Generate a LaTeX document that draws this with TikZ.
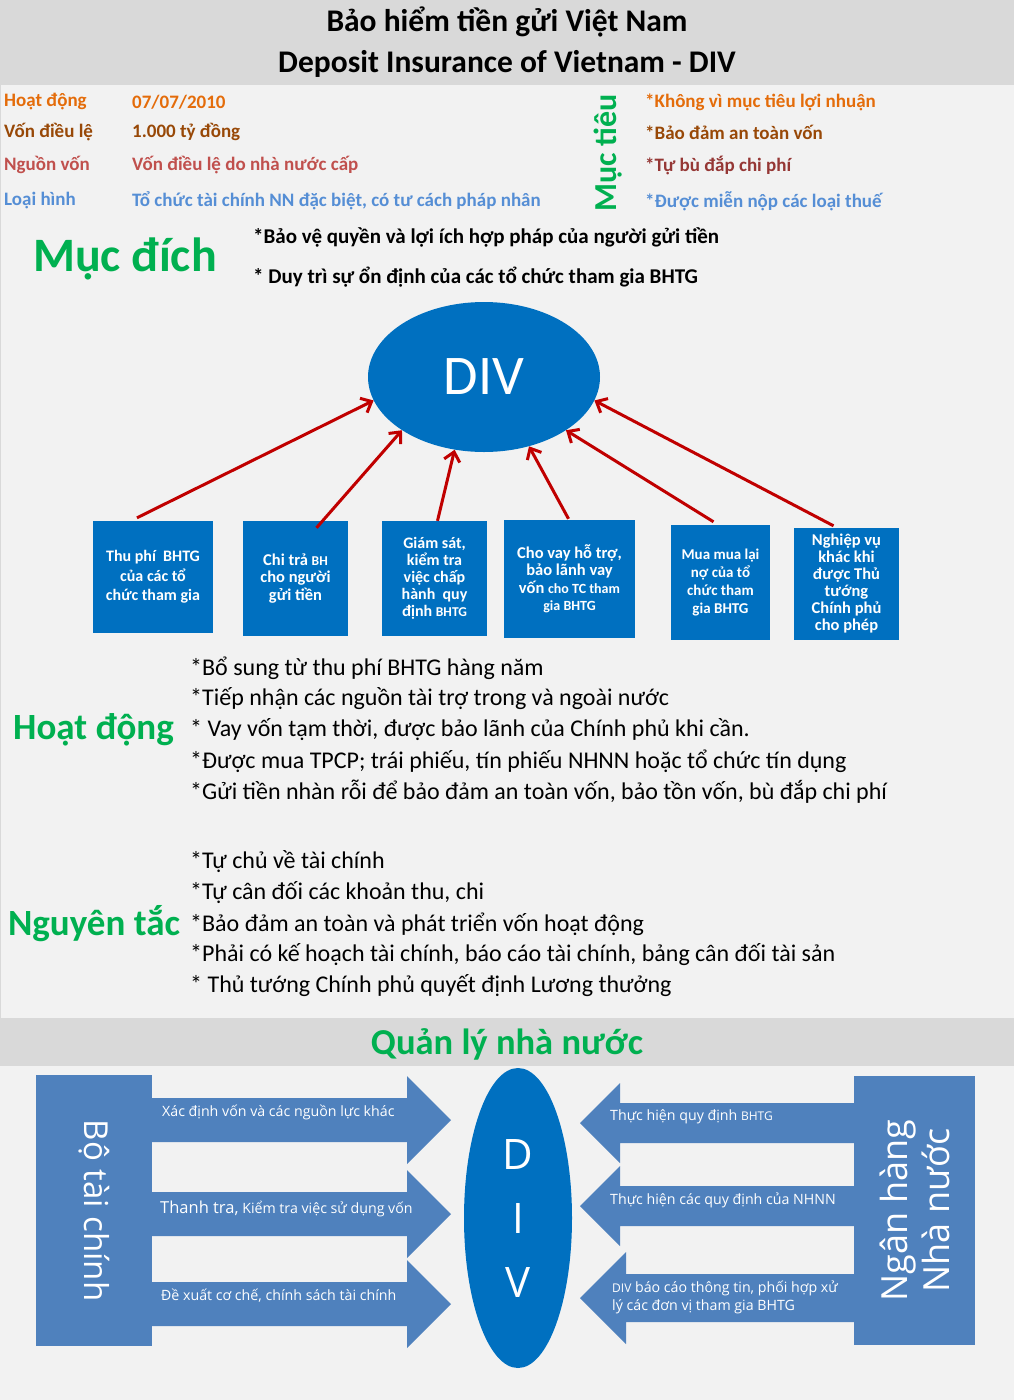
\documentclass[tikz,border=0pt]{standalone}
\usepackage{fontspec}
\setmainfont{Carlito}
\newfontfamily\segoe{Open Sans}
\usetikzlibrary{arrows.meta,shapes.geometric}
\definecolor{pagegray}{HTML}{F2F2F2}
\definecolor{bandgray}{HTML}{D9D9D9}
\definecolor{headgreen}{HTML}{00B050}
\definecolor{divblue}{HTML}{0070C0}
\definecolor{mofblue}{HTML}{4F81BD}
\definecolor{tiered}{HTML}{C00000}
\definecolor{orangec}{HTML}{E46C0A}
\definecolor{brownc}{HTML}{984807}
\definecolor{redc}{HTML}{C0504D}
\definecolor{darkredc}{HTML}{953735}
\definecolor{bluec}{HTML}{558ED5}

\begin{document}
\begin{tikzpicture}[x=1pt,y=-1pt,
 info/.style={anchor=west,inner sep=0pt,font=\fontsize{19}{22}\selectfont\bfseries},
 head/.style={text=headgreen,inner sep=0pt,font=\fontsize{37}{42}\selectfont\bfseries},
 card/.style={fill=divblue,text=white,align=center,inner sep=0pt,font=\fontsize{16}{19.5}\selectfont\bfseries},
 tie/.style={draw=tiered,line width=3pt,-{Straight Barb[length=9pt,width=16pt]}},
 item/.style={anchor=west,inner sep=0pt,font=\fontsize{24}{28}\selectfont},
 blk/.style={fill=mofblue},
 tag/.style={anchor=west,inner sep=0pt,text=white,align=left,font=\segoe\fontsize{14.2}{18}\selectfont}]
\useasboundingbox (0,0) rectangle (1014,1400);
% backgrounds
\fill[pagegray] (0,0) rectangle (1014,1400);
\fill[bandgray] (0,0) rectangle (1014,85);
\fill[bandgray] (0,1018) rectangle (1014,1066);
\draw[bandgray] (0.5,85) -- (0.5,1018);

% title
\node[font=\fontsize{31.5}{36}\selectfont\bfseries] (t1) at (507,22) {Bảo hiểm tiền gửi Việt Nam};
\node[font=\fontsize{31.5}{36}\selectfont\bfseries] (t2) at (507,64) {Deposit Insurance of Vietnam - DIV};

% info rows
\node[info,text=orangec] (k1) at (4,102) {Hoạt động};
\node[info,text=orangec] (v1) at (132,102) {07/07/2010};
\node[info,text=brownc] (k2) at (4,132) {Vốn điều lệ};
\node[info,text=brownc] (v2) at (132,132) {1.000 tỷ đồng};
\node[info,text=redc] (k3) at (4,165) {Nguồn vốn};
\node[info,text=redc] (v3) at (132,165) {Vốn điều lệ do nhà nước cấp};
\node[info,text=bluec] (k4) at (4,201) {Loại hình};
\node[info,text=bluec] (v4) at (132,201) {Tổ chức tài chính NN đặc biệt, có tư cách pháp nhân};

% goals
\node[head,rotate=90,font=\fontsize{32}{36}\selectfont\bfseries] (goal) at (608,153) {Mục tiêu};
\node[info,text=orangec] (g1) at (645,102) {*Không vì mục tiêu lợi nhuận};
\node[info,text=brownc] (g2) at (645,132) {*Bảo đảm an toàn vốn};
\node[info,text=darkredc] (g3) at (645,165) {*Tự bù đắp chi phí};
\node[info,text=bluec] (g4) at (645,201) {*Được miễn nộp các loại thuế};

% purpose
\node[head,font=\fontsize{48}{54}\selectfont\bfseries] (aim) at (125,259) {Mục đích};
\node[info,font=\fontsize{21}{24}\selectfont\bfseries] (p1) at (253,237) {*Bảo vệ quyền và lợi ích hợp pháp của người gửi tiền};
\node[info,font=\fontsize{21}{24}\selectfont\bfseries] (p2) at (253,277) {* Duy trì sự ổn định của các tổ chức tham gia BHTG};

% DIV and its tasks
\node[ellipse,fill=divblue,minimum width=232,minimum height=150,inner sep=0pt,text=white,font=\fontsize{56}{60}\selectfont] (div) at (484,377) {DIV};
\node[card,minimum width=120,minimum height=112] (b1) at (153,577) {Thu phí\ \ BHTG\\của các tổ\\chức tham gia};
\node[card,minimum width=105,minimum height=115,font=\fontsize{16.5}{17.5}\selectfont\bfseries] (b2) at (295.5,578.5) {Chi trả {\fontsize{13.5}{14}\selectfont BH}\\cho người\\gửi tiền};
\node[card,minimum width=105,minimum height=115,font=\fontsize{16}{17}\selectfont\bfseries] (b3) at (434.5,578.5) {Giám\ sát,\\kiểm tra\\việc chấp\\hành\ \ quy\\định {\fontsize{13.5}{14}\selectfont BHTG}};
\node[card,minimum width=131,minimum height=118,font=\fontsize{16.5}{17.5}\selectfont\bfseries] (b4) at (569.5,579) {Cho vay hỗ trợ,\\bảo lãnh vay\\vốn {\fontsize{14}{14}\selectfont cho TC tham}\\{\fontsize{14}{14}\selectfont gia BHTG}};
\node[card,minimum width=99,minimum height=115,font=\fontsize{15}{18}\selectfont\bfseries] (b5) at (720.5,582.5) {Mua mua lại\\nợ của tổ\\chức tham\\gia BHTG};
\node[card,minimum width=105,minimum height=112,font=\fontsize{16.5}{17}\selectfont\bfseries] (b6) at (846.5,584) {Nghiệp vụ\\khác khi\\được Thủ\\tướng\\Chính phủ\\cho phép};
\draw[tie] ([xshift=-16,yshift=3]b1.north) -- (div.192.8);
\draw[tie] ([xshift=21,yshift=-7]b2.north) -- (div.213.7);
\draw[tie] ([xshift=3]b3.north) -- (div.248.5);
\draw[tie] ([xshift=-1,yshift=1]b4.north) -- (div.303.9);
\draw[tie] ([xshift=-7,yshift=3]b5.north) -- (div.327.4);
\draw[tie] ([xshift=-13,yshift=2]b6.north) -- (div.348);

% activities
\node[head] (act) at (93.5,730) {Hoạt động};
\foreach \t [count=\i from 0] in {{*Bổ sung từ thu phí BHTG hàng năm},
 {*Tiếp nhận các nguồn tài trợ trong và ngoài nước},
 {* Vay vốn tạm thời, được bảo lãnh của Chính phủ khi cần.},
 {*Được mua TPCP; trái phiếu, tín phiếu NHNN hoặc tổ chức tín dụng},
 {*Gửi tiền nhàn rỗi để bảo đảm an toàn vốn, bảo tồn vốn, bù đắp chi phí}}
 \node[item] (a\i) at (190,668+31*\i) {\t};

% principles
\node[head] (rule) at (94,924) {Nguyên tắc};
\foreach \t [count=\i from 0] in {{*Tự chủ về tài chính},
 {*Tự cân đối các khoản thu, chi},
 {*Bảo đảm an toàn và phát triển vốn hoạt động},
 {*Phải có kế hoạch tài chính, báo cáo tài chính, bảng cân đối tài sản},
 {* Thủ tướng Chính phủ quyết định Lương thưởng}}
 \node[item] (r\i) at (190,862+31*\i) {\t};

% state management
\node[head,font=\fontsize{36.5}{40}\selectfont\bfseries] (gov) at (507,1044) {Quản lý nhà nước};
\foreach \y in {1120,1214,1304}
 \fill[blk] (152,\y-22) -- (407,\y-22) -- (407,\y-44) -- (451,\y) -- (407,\y+44) -- (407,\y+22) -- (152,\y+22) -- cycle;
\foreach \y/\h/\s/\e in {1123/620/20/40,1206/620/20/40,1298/626/24/46}
 \fill[blk] (854,\y-\s) -- (\h,\y-\s) -- (\h,\y-\e) -- (580,\y) -- (\h,\y+\e) -- (\h,\y+\s) -- (854,\y+\s) -- cycle;
\node[blk,minimum width=271,minimum height=116,inner sep=0pt,rotate=-90,text=white,font=\segoe\fontsize{33}{40}\selectfont] (mof) at (94,1210.5) {Bộ tài chính};
\node[blk,minimum width=269,minimum height=121,inner sep=0pt,rotate=90,align=center,text=white,font=\segoe\fontsize{36}{42}\selectfont] (sbv) at (914.5,1210.5) {Ngân hàng\\Nhà nước};
\node[ellipse,fill=divblue,minimum width=108,minimum height=300,inner sep=0pt,align=center,text=white,font=\segoe\fontsize{42}{64}\selectfont] (div2) at (518,1218) {D\\I\\V};
\node[tag] (m1) at (162,1112) {Xác định vốn và các nguồn lực khác};
\node[tag] (m2) at (160,1209) {{\fontsize{16.5}{18}\selectfont Thanh tra,} Kiểm tra việc sử dụng vốn};
\node[tag] (m3) at (161,1296) {Đề xuất cơ chế, chính sách tài chính};
\node[tag] (s1) at (610,1117) {Thực hiện quy định {\fontsize{12}{13}\selectfont BHTG}};
\node[tag] (s2) at (610,1200) {Thực hiện các quy định của NHNN};
\node[tag] (s3) at (612,1297) {{\fontsize{12}{13}\selectfont DIV} báo cáo thông tin, phối hợp xử\\lý các đơn vị tham gia BHTG};
\end{tikzpicture}
\end{document}
